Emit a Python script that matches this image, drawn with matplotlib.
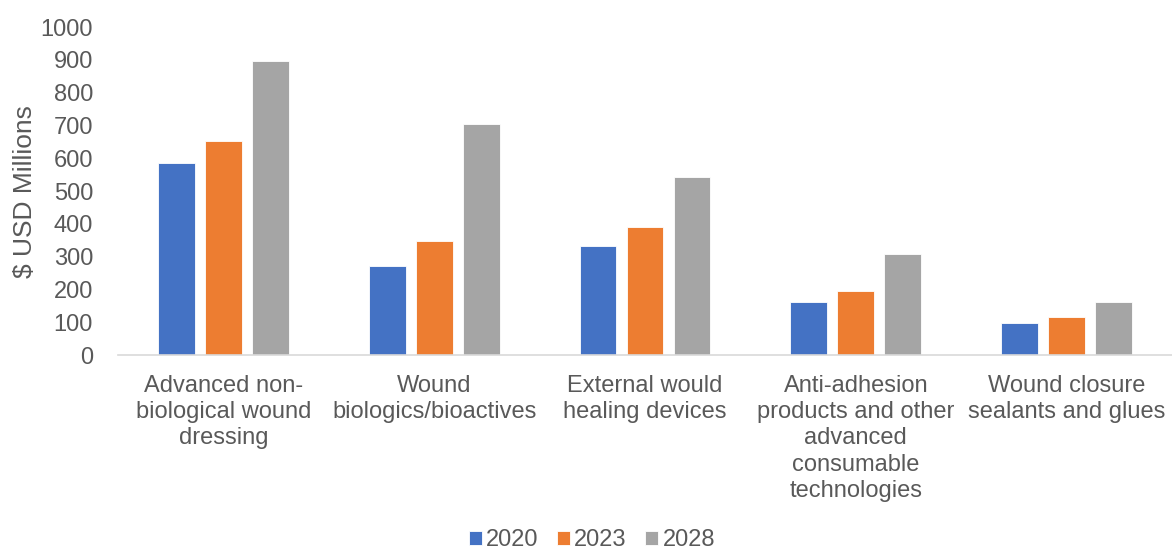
import numpy as np
import matplotlib.pyplot as plt

plt.rcParams['font.family'] = ['Liberation Sans', 'DejaVu Sans']

categories = [
    'Advanced non-\nbiological wound\ndressing',
    'Wound\nbiologics/bioactives',
    'External would\nhealing devices',
    'Anti-adhesion\nproducts and other\nadvanced\nconsumable\ntechnologies',
    'Wound closure\nsealants and glues',
]
years = ['2020', '2023', '2028']
v2020 = [585, 271, 332, 162, 98]
v2023 = [652, 348, 390, 195, 116]
v2028 = [896, 704, 543, 308, 162]
colors = ['#4472C4', '#ED7D31', '#A5A5A5']

fs = 17
fig = plt.figure(figsize=(11.72, 5.54), dpi=100)
ax = fig.add_axes([0.1007, 0.359, 0.8993, 0.592])

x = np.arange(len(categories))
w = 0.175
offsets = [-0.223, 0, 0.223]
for vals, off, c, lab in zip([v2020, v2023, v2028], offsets, colors, years):
    ax.bar(x + off, vals, w, color=c, label=lab, edgecolor='white', linewidth=0.6)

ax.set_xlim(-0.5, len(categories) - 0.5)
ax.set_ylim(0, 1000)
ax.set_yticks(range(0, 1001, 100))
ax.set_xticks(x)
ax.set_xticklabels(categories, fontsize=fs, color='#595959', linespacing=1.26)
ax.tick_params(axis='y', labelsize=fs, labelcolor='#595959', length=0, pad=18)
ax.tick_params(axis='x', length=0, pad=14)

for s in ['top', 'right', 'left']:
    ax.spines[s].set_visible(False)
ax.spines['bottom'].set_color('#D9D9D9')
ax.spines['bottom'].set_linewidth(1.2)

ax.set_ylabel('$ USD Millions', fontsize=19, color='#595959')
ax.yaxis.set_label_coords(-0.077, 0.5)

fig.legend(loc='lower center', bbox_to_anchor=(0.505, -0.033), ncol=3, frameon=False,
           fontsize=fs, labelcolor='#595959', handlelength=0.55, handleheight=0.55,
           handletextpad=0.17, columnspacing=0.8)

fig.savefig('out.png', dpi=100)
